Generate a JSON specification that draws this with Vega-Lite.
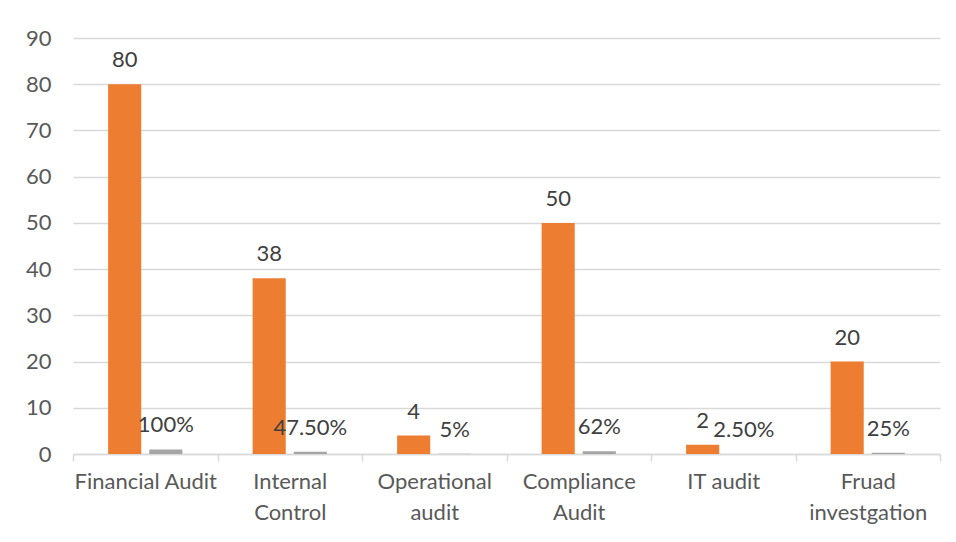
{
  "$schema": "https://vega.github.io/schema/vega-lite/v6.json",
  "width": 867,
  "height": 416,
  "autosize": {"type": "none"},
  "padding": {"left": 73, "top": 38, "right": 16, "bottom": 88},
  "background": "#ffffff",
  "config": {
    "view": {"stroke": null},
    "font": "Lato"
  },
  "data": {
    "values": [
      {"area": "Financial Audit", "series": "count", "value": 80, "label": "80"},
      {"area": "Financial Audit", "series": "share", "value": 1, "label": "100%"},
      {"area": "Internal Control", "series": "count", "value": 38, "label": "38"},
      {"area": "Internal Control", "series": "share", "value": 0.475, "label": "47.50%"},
      {"area": "Operational audit", "series": "count", "value": 4, "label": "4"},
      {"area": "Operational audit", "series": "share", "value": 0.05, "label": "5%"},
      {"area": "Compliance Audit", "series": "count", "value": 50, "label": "50"},
      {"area": "Compliance Audit", "series": "share", "value": 0.62, "label": "62%"},
      {"area": "IT audit", "series": "count", "value": 2, "label": "2"},
      {"area": "IT audit", "series": "share", "value": 0.025, "label": "2.50%"},
      {"area": "Fruad investgation", "series": "count", "value": 20, "label": "20"},
      {"area": "Fruad investgation", "series": "share", "value": 0.25, "label": "25%"}
    ]
  },
  "encoding": {
    "x": {
      "field": "area",
      "type": "nominal",
      "sort": null,
      "scale": {"paddingInner": 0, "paddingOuter": 0},
      "axis": {
        "title": null,
        "labelAngle": 0,
        "labelFontSize": 22,
        "labelColor": "#595959",
        "labelLineHeight": 31,
        "labelPadding": 10,
        "labelBaseline": "top",
        "labelExpr": "!isString(datum.value) ? '' : (indexof(['Financial Audit', 'IT audit'], datum.value) >= 0 ? datum.value : split(datum.value, ' '))",
        "domainColor": "#d9d9d9",
        "domainWidth": 1.5,
        "tickColor": "#d9d9d9",
        "tickWidth": 1.5,
        "tickSize": 7,
        "tickBand": "extent",
        "grid": false
      }
    },
    "xOffset": {
      "field": "series",
      "sort": ["count", "share"],
      "scale": {"paddingInner": 0.195, "paddingOuter": 0.854}
    },
    "y": {
      "field": "value",
      "type": "quantitative",
      "scale": {"domain": [0, 90], "nice": false},
      "axis": {
        "title": null,
        "values": [0, 10, 20, 30, 40, 50, 60, 70, 80, 90],
        "labelFontSize": 22,
        "labelColor": "#595959",
        "labelPadding": 22,
        "domain": false,
        "ticks": false,
        "gridColor": "#d9d9d9",
        "gridWidth": 1.5
      }
    }
  },
  "layer": [
    {
      "mark": {"type": "bar"},
      "encoding": {
        "color": {
          "field": "series",
          "scale": {"domain": ["count", "share"], "range": ["#ed7d31", "#a5a5a5"]},
          "legend": null
        }
      }
    },
    {
      "mark": {"type": "text", "baseline": "middle", "dy": -24, "fontSize": 22, "color": "#404040"},
      "encoding": {"text": {"field": "label"}}
    }
  ]
}
